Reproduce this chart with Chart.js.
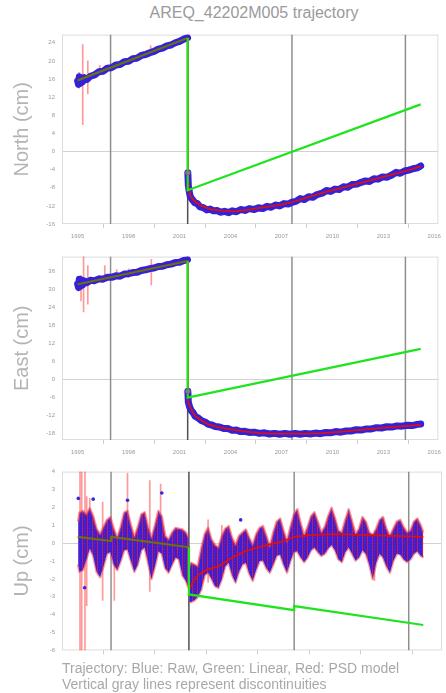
<!DOCTYPE html>
<html>
<head>
<meta charset="utf-8">
<script src="https://cdn.jsdelivr.net/npm/chart.js@4.4.1/dist/chart.umd.min.js"></script>
<style>
    body { margin: 0; background: #fff; width: 446px; height: 693px; overflow: hidden; position: relative; font-family: "Liberation Sans", Arial, sans-serif; }
    canvas { position: absolute; left: 0; }
    #title { position: absolute; left: 62px; width: 384px; top: 4px; text-align: center; color: #9a9a9a; font-size: 16px; }
    #foot { position: absolute; left: 62px; top: 660px; color: #a8a8a8; font-size: 14px; line-height: 16px; white-space: nowrap; }
</style>
</head>
<body>
<div id="title">AREQ_42202M005 trajectory</div>
<canvas id="chartN" width="446" height="222" style="top:24px"></canvas>
<canvas id="chartE" width="446" height="215" style="top:246px"></canvas>
<canvas id="chartU" width="446" height="200" style="top:461px"></canvas>
<div id="foot">Trajectory: Blue: Raw, Green: Linear, Red: PSD model<br>Vertical gray lines represent discontinuities</div>
<script>
'use strict';

// ---- data (decimal year, cm) ----
const yearTicks = [1995, 1998, 2001, 2004, 2007, 2010, 2013, 2016];
const northTicks = [-16, -12, -8, -4, 0, 4, 8, 12, 16, 20, 24];
const eastTicks = [-18, -12, -6, 0, 6, 12, 18, 24, 30, 36];
const upTicks = [-6, -5, -4, -3, -2, -1, 0, 1, 2, 3, 4];
const discontinuities = [1996.94, 2001.48, 2007.62, 2014.3];
const quakeYear = 2001.48;

const northRaw = [
    [1995.0, 15.6], [1995.05, 14.8], [1995.1, 16.5], [1995.15, 15.0], [1995.2, 16.2], [1995.3, 15.4],
    [1995.4, 16.3], [1995.55, 15.9], [1995.75, 16.6], [1996.0, 16.9], [1996.25, 17.6], [1996.5, 17.7],
    [1996.75, 18.4], [1997.0, 18.5], [1997.25, 19.1], [1997.5, 19.2], [1997.75, 19.8], [1998.0, 19.9],
    [1998.25, 20.5], [1998.5, 20.6], [1998.75, 21.2], [1999.0, 21.4], [1999.25, 21.8], [1999.5, 22.1],
    [1999.75, 22.6], [2000.0, 22.8], [2000.25, 23.3], [2000.5, 23.5], [2000.75, 24.0], [2001.0, 24.3],
    [2001.25, 24.8], [2001.47, 25.1], [2001.48, null],
    [2001.49, -4.7], [2001.52, -7.5], [2001.57, -8.8], [2001.63, -9.9], [2001.75, -10.6], [2001.9, -11.3],
    [2002.05, -11.5], [2002.2, -12.2], [2002.4, -12.4], [2002.6, -12.9], [2002.8, -12.7], [2003.0, -13.1],
    [2003.2, -13.0], [2003.4, -13.4], [2003.65, -13.2], [2003.9, -13.5], [2004.1, -13.1], [2004.35, -13.3],
    [2004.6, -12.8], [2004.85, -13.0], [2005.1, -12.6], [2005.4, -12.8], [2005.65, -12.4], [2005.9, -12.6],
    [2006.15, -12.1], [2006.4, -12.3], [2006.65, -11.8], [2006.9, -12.0], [2007.15, -11.5], [2007.4, -11.6],
    [2007.62, -11.2], [2007.85, -11.0], [2008.1, -10.4], [2008.35, -10.6], [2008.6, -10.0], [2008.85, -10.1],
    [2009.1, -9.5], [2009.4, -9.2], [2009.65, -8.6], [2009.9, -8.8], [2010.15, -8.3], [2010.4, -8.4],
    [2010.65, -7.8], [2010.9, -7.9], [2011.15, -7.3], [2011.45, -7.2], [2011.7, -6.8], [2011.95, -6.5],
    [2012.2, -6.6], [2012.45, -6.0], [2012.7, -6.1], [2012.95, -5.6], [2013.2, -5.7], [2013.5, -5.2],
    [2013.75, -4.6], [2014.0, -4.8], [2014.25, -4.3], [2014.5, -4.1], [2014.75, -3.8], [2015.0, -3.6],
    [2015.2, -3.2]
];
const northModel = [
    [1995.0, 15.7], [2001.48, 25.05], [2001.49, -4.7], [2001.55, -8.0], [2001.63, -9.8], [2001.8, -10.6],
    [2002.0, -11.3], [2002.3, -12.0], [2002.8, -12.7], [2003.5, -13.1], [2004.3, -13.2], [2005.0, -12.9],
    [2006.0, -12.3], [2007.0, -11.7], [2007.62, -11.2], [2008.5, -10.2], [2009.5, -9.0], [2010.5, -8.1],
    [2011.5, -7.1], [2012.5, -6.1], [2013.5, -5.1], [2014.5, -4.1], [2015.2, -3.3]
];
const northLinear = [[1995.0, 15.7], [2001.48, 25.05], [2001.48, -8.55], [2015.2, 10.4]];
const northErrors = [[1995.1, 14.0, 17.5], [1995.3, 5.9, 23.6], [1995.6, 12.7, 20.0], [1996.3, 17.0, 19.0], [1999.3, 21.2, 23.4]];
const northFirstPost = [[2001.49, -4.7]];

const eastRaw = [
    [1995.0, 31.8], [1995.05, 30.6], [1995.1, 33.4], [1995.15, 30.9], [1995.2, 33.2], [1995.3, 31.5],
    [1995.4, 32.8], [1995.55, 32.2], [1995.75, 33.0], [1996.0, 32.9], [1996.25, 33.5], [1996.5, 33.4],
    [1996.75, 34.0], [1997.0, 34.0], [1997.25, 34.5], [1997.5, 34.4], [1997.75, 35.1], [1998.0, 35.2],
    [1998.25, 35.6], [1998.5, 35.7], [1998.75, 36.3], [1999.0, 36.5], [1999.25, 36.9], [1999.5, 37.1],
    [1999.75, 37.6], [2000.0, 37.7], [2000.25, 38.2], [2000.5, 38.4], [2000.75, 38.9], [2001.0, 39.0],
    [2001.25, 39.6], [2001.47, 39.9], [2001.48, null],
    [2001.49, -3.9], [2001.52, -7.6], [2001.6, -9.2], [2001.7, -10.4], [2001.8, -11.0], [2001.92, -12.2],
    [2002.1, -12.8], [2002.3, -13.7], [2002.5, -14.1], [2002.7, -14.9], [2002.9, -15.1], [2003.1, -15.6],
    [2003.35, -15.8], [2003.6, -16.3], [2003.85, -16.3], [2004.1, -16.9], [2004.35, -16.8], [2004.6, -17.3],
    [2004.85, -17.2], [2005.1, -17.6], [2005.4, -17.5], [2005.7, -17.9], [2006.0, -17.7], [2006.3, -18.1],
    [2006.6, -17.9], [2006.9, -18.2], [2007.2, -17.9], [2007.5, -18.2], [2007.8, -17.9], [2008.1, -18.2],
    [2008.4, -17.9], [2008.7, -18.1], [2009.0, -17.8], [2009.3, -18.0], [2009.6, -17.6], [2009.9, -17.7],
    [2010.2, -17.3], [2010.5, -17.5], [2010.8, -17.1], [2011.1, -17.1], [2011.4, -16.7], [2011.7, -16.8],
    [2012.0, -16.4], [2012.3, -16.4], [2012.6, -16.0], [2012.9, -16.1], [2013.2, -15.7], [2013.5, -15.8],
    [2013.8, -15.4], [2014.1, -15.5], [2014.4, -15.2], [2014.7, -15.3], [2015.0, -14.9], [2015.2, -14.8]
];
const eastModel = [
    [1995.0, 31.7], [2001.48, 39.45], [2001.49, -3.9], [2001.52, -7.9], [2001.75, -10.5], [2001.92, -12.1],
    [2002.3, -13.6], [2002.67, -14.8], [2003.2, -15.7], [2003.83, -16.4], [2004.8, -17.2], [2005.73, -17.8],
    [2006.6, -18.0], [2007.58, -18.0], [2008.5, -18.0], [2009.43, -17.8], [2010.4, -17.4], [2011.33, -16.9],
    [2012.3, -16.4], [2013.29, -15.9], [2014.2, -15.5], [2015.2, -15.1]
];
const eastLinear = [[1995.0, 31.7], [2001.48, 39.45], [2001.48, -6.0], [2015.2, 10.2]];
const eastErrors = [[1995.2, 26.2, 34.7], [1995.35, 22.5, 41.1], [1995.6, 25.1, 37.9], [1996.6, 34.1, 37.9], [1997.3, 33.5, 36.6], [1998.0, 34.0, 36.8], [1999.34, 31.5, 40.0]];
const eastFirstPost = [[2001.49, -3.9]];

// Up: raw envelope per bin [year, low, high]
const upRaw = [
    [1995.02, -1.2, 1.2], [1995.1, -1.6, 1.7], [1995.3, -1.5, 1.8], [1995.5, -0.9, 1.6], [1995.7, -0.3, 1.95], [1995.9, -0.7, 1.5],
    [1996.1, -1.6, 0.8], [1996.3, -1.9, 0.5], [1996.5, -1.3, 0.9], [1996.7, -0.6, 1.3], [1996.9, -0.5, 1.45],
    [1997.1, -1.2, 0.8], [1997.3, -1.5, 0.3], [1997.5, -1.0, 0.9], [1997.7, -0.4, 1.7], [1997.9, -0.35, 1.8],
    [1998.1, -1.0, 1.0], [1998.3, -1.6, 0.35], [1998.5, -1.2, 0.9], [1998.7, -0.4, 1.6], [1998.9, -0.25, 1.72],
    [1999.1, -1.1, 0.9], [1999.3, -2.0, 0.3], [1999.5, -1.3, 1.0], [1999.7, -0.45, 1.8], [1999.9, -0.6, 1.5],
    [2000.1, -1.4, 0.4], [2000.3, -1.65, 0.2], [2000.5, -1.2, 0.6], [2000.7, -0.8, 0.85], [2000.9, -0.9, 0.8],
    [2001.1, -1.8, 0.76], [2001.3, -2.1, 0.6], [2001.46, -2.5, 0.3], [2001.48, null, null],
    [2001.5, -3.3, -1.4], [2001.6, -3.3, -1.1], [2001.8, -3.2, -1.2], [2002.0, -3.0, -1.3], [2002.2, -2.6, -0.3], [2002.4, -1.8, 0.5],
    [2002.6, -1.65, 0.85], [2002.8, -2.0, 0.2], [2003.0, -2.4, -0.1], [2003.2, -2.5, -0.25], [2003.4, -2.0, 0.4],
    [2003.6, -1.3, 0.8], [2003.8, -1.1, 0.95], [2004.0, -1.8, 0.3], [2004.2, -2.2, -0.1], [2004.4, -1.6, 0.4],
    [2004.6, -1.2, 0.6], [2004.8, -1.1, 0.76], [2005.0, -1.7, 0.3], [2005.2, -2.1, -0.1], [2005.4, -1.5, 0.5],
    [2005.6, -1.0, 0.85], [2005.8, -0.97, 0.95], [2006.0, -1.4, 0.4], [2006.2, -1.65, -0.19], [2006.4, -1.2, 0.6],
    [2006.6, -0.7, 1.2], [2006.8, -0.63, 1.37], [2007.0, -1.2, 0.7], [2007.2, -1.65, 0.09], [2007.4, -1.0, 0.9],
    [2007.6, -0.5, 1.6], [2007.8, -0.45, 1.89], [2008.0, -0.8, 1.1], [2008.2, -1.06, 0.43], [2008.4, -0.8, 0.9],
    [2008.6, -0.4, 1.5], [2008.8, -0.25, 1.72], [2009.0, -0.5, 1.2], [2009.2, -0.71, 0.6], [2009.4, -0.6, 0.9],
    [2009.6, -0.3, 1.5], [2009.8, -0.1, 1.97], [2010.0, -0.4, 1.4], [2010.2, -0.9, 0.7], [2010.4, -1.06, 0.6],
    [2010.6, -0.5, 1.3], [2010.8, -0.25, 1.89], [2011.0, -0.6, 1.2], [2011.2, -0.97, 0.5], [2011.4, -0.8, 0.8],
    [2011.6, -0.4, 1.46], [2011.8, -0.6, 1.2], [2012.0, -1.2, 0.6], [2012.2, -2.0, 0.45], [2012.4, -1.1, 0.8],
    [2012.6, -0.6, 1.3], [2012.8, -0.8, 1.46], [2013.0, -1.3, 0.8], [2013.2, -1.65, 0.4], [2013.4, -1.0, 0.8],
    [2013.6, -0.6, 1.2], [2013.8, -0.63, 1.3], [2014.0, -0.9, 0.9], [2014.2, -1.06, 0.6], [2014.4, -0.9, 0.7],
    [2014.6, -0.6, 1.2], [2014.8, -0.45, 1.37], [2015.0, -0.7, 1.0], [2015.15, -0.8, 0.59]
];
const upOutliers = [[1995.03, 2.5], [1995.9, 2.46], [1995.4, -2.5], [1997.9, 2.4], [1999.9, 2.8], [2004.5, 1.3]];
const upModel = [
    [1995.0, 0.35], [1996.94, 0.12], [1996.94, 0.35], [2001.48, -0.23], [2001.5, -2.6], [2001.7, -2.2],
    [2002.0, -1.8], [2002.5, -1.5], [2003.2, -1.3], [2004.0, -0.8], [2004.8, -0.45], [2005.8, -0.15],
    [2006.8, 0.05], [2007.62, 0.35], [2008.5, 0.45], [2010.0, 0.5], [2012.0, 0.45], [2013.5, 0.4], [2015.15, 0.35]
];
const upLinear = [
    [1995.0, 0.35], [1996.94, 0.12], [1996.94, 0.35], [2001.48, -0.23], [2001.48, -2.87],
    [2007.62, -3.75], [2007.62, -3.52], [2015.15, -4.58]
];
const upErrors = [
    [1995.13, -6, 4], [1995.23, -6, 4], [1995.42, -6, 4], [1995.52, -3.5, 2.6], [1995.7, 0.9, 2.5],
    [1996.45, -3.2, 2.3], [1997.13, -3.2, -0.45], [1997.9, 1.4, 3.9], [1999.2, -2.7, 3.5], [1999.83, 1.46, 3.3],
    [2002.6, -2.2, 1.3], [2003.4, -0.9, 1.0], [2012.3, -2.1, -0.5]
];

// ---- helpers ----
const FONT = '"Liberation Sans", Arial, sans-serif';
const GRAY_TXT = '#9a9a9a';
const RAW_BLUE = '#3322d8';

const framePlugin = {
    id: 'frame',
    beforeDatasetsDraw(chart) {
        const a = chart.chartArea, ctx = chart.ctx;
        ctx.save();
        ctx.strokeStyle = '#dddddd';
        ctx.lineWidth = 1;
        ctx.strokeRect(a.left + 0.5, a.top + 0.5, a.right - a.left - 1, a.bottom - a.top - 1);
        ctx.restore();
    }
};

// blue dots over red error bars: a small striped fill for the Up cloud
function cloudPattern() {
    const c = document.createElement('canvas');
    c.width = 5; c.height = 3;
    const g = c.getContext('2d');
    g.fillStyle = '#3a1fd6'; g.fillRect(0, 0, 5, 3);
    g.fillStyle = 'rgba(235,30,50,0.75)'; g.fillRect(2, 0, 1, 3);
    g.fillStyle = 'rgba(235,30,50,0.45)'; g.fillRect(4, 1, 1, 1);
    return g.createPattern(c, 'repeat');
}

function pts(list) { return list.map(function(p) { return { x: p[0], y: p[1] }; }); }
function bars(list) { return list.map(function(p) { return { x: p[0], y: [p[1], p[2]] }; }); }
function col(list, i) { return list.map(function(p) { return { x: p[0], y: p[i] }; }); }

function discLines(yMin, yMax) {
    const out = [];
    discontinuities.forEach(function(t) {
        out.push({ x: t, y: yMin }, { x: t, y: yMax }, { x: t, y: null });
    });
    return {
        type: 'line', data: out, order: 20, borderWidth: 1.5, pointRadius: 0,
        borderColor: '#8f8f8f',
        segment: { borderColor: function(ctx) { return ctx.p0.parsed.x === quakeYear ? '#505050' : '#8f8f8f'; } }
    };
}

function linearSet(list) {
    return {
        type: 'line', data: pts(list), order: 2, borderWidth: 2.2, pointRadius: 0,
        borderColor: '#1ee41e',
        segment: {
            borderColor: function(ctx) {
                const a = ctx.p0.parsed.x, b = ctx.p1.parsed.x;
                return (b < quakeYear || (a < quakeYear && b <= quakeYear && a !== b)) ? 'rgba(20,200,0,0.5)' : '#1ee41e';
            }
        }
    };
}

function modelSet(list) {
    return { type: 'line', data: pts(list), order: 3, borderWidth: 1.8, pointRadius: 0, borderColor: '#dd1010' };
}

function rawSet(list) {
    return { type: 'line', data: pts(list), order: 8, borderWidth: 7, pointRadius: 0, borderColor: RAW_BLUE, borderJoinStyle: 'round', borderCapStyle: 'round' };
}

function errorSet(list) {
    return { type: 'bar', data: bars(list), order: 15, grouped: false, barThickness: 1, backgroundColor: 'rgba(255,70,70,0.55)' };
}

function makeChart(id, o) {
    return new Chart(document.getElementById(id), {
        type: 'bar',
        data: { datasets: o.datasets },
        plugins: [framePlugin],
        options: {
            responsive: false, animation: false, events: [],
            layout: { padding: { top: o.padTop, left: 0, right: 0, bottom: 0 } },
            plugins: { legend: { display: false }, tooltip: { enabled: false } },
            scales: {
                x: {
                    type: 'linear', min: 1994.08, max: 2016.24, offset: false,
                    afterFit: function(s) { s.height = o.xHeight; },
                    afterBuildTicks: function(s) { s.ticks = yearTicks.map(function(v) { return { value: v }; }); },
                    grid: { drawOnChartArea: false, drawTicks: true, tickLength: 4, color: '#cfcfcf' },
                    border: { display: false },
                    ticks: { display: o.xLabels, autoSkip: false, maxRotation: 0, padding: 5, color: GRAY_TXT, font: { family: FONT, size: 6 }, callback: function(v) { return String(v); } }
                },
                y: {
                    type: 'linear', min: o.yMin, max: o.yMax,
                    afterFit: function(s) { s.width = 62; },
                    afterBuildTicks: function(s) { s.ticks = o.yTicks.map(function(v) { return { value: v }; }); },
                    grid: { drawTicks: false, lineWidth: 1, color: function(ctx) { return ctx.tick && ctx.tick.value === 0 ? '#d2d2d2' : 'rgba(0,0,0,0)'; } },
                    border: { display: false },
                    ticks: { padding: 7, color: GRAY_TXT, font: { family: FONT, size: 6 } },
                    title: { display: true, text: o.title, color: '#b4b4b4', font: { family: FONT, size: 20 }, padding: { top: 10, bottom: 0 } }
                }
            }
        }
    });
}

// North
makeChart('chartN', {
    padTop: 10, xHeight: 22, xLabels: true, yMin: -16, yMax: 25.8, yTicks: northTicks, title: 'North (cm)',
    datasets: [
        discLines(-16, 25.8),
        errorSet(northErrors),
        rawSet(northRaw),
        modelSet(northModel),
        linearSet(northLinear),
        { type: 'scatter', data: pts(northFirstPost), order: 1, pointRadius: 2.5, backgroundColor: '#808080', borderColor: '#606060', borderWidth: 0.5 }
    ]
});

// East
makeChart('chartE', {
    padTop: 3, xHeight: 21, xLabels: true, yMin: -20.1, yMax: 40.9, yTicks: eastTicks, title: 'East (cm)',
    datasets: [
        discLines(-20.1, 40.9),
        errorSet(eastErrors),
        rawSet(eastRaw),
        modelSet(eastModel),
        linearSet(eastLinear),
        { type: 'scatter', data: pts(eastFirstPost), order: 1, pointRadius: 2.5, backgroundColor: '#808080', borderColor: '#606060', borderWidth: 0.5 }
    ]
});

// Up: raw cloud drawn as the band between its high and low edges
makeChart('chartU', {
    padTop: 3, xHeight: 5, xLabels: false, yMin: -6, yMax: 4, yTicks: upTicks, title: 'Up (cm)',
    datasets: [
        {
            type: 'line', data: col(upRaw, 2), order: 8, fill: '+1', pointRadius: 0,
            backgroundColor: cloudPattern(), borderColor: 'rgba(250,60,70,0.55)', borderWidth: 2.5, borderJoinStyle: 'round'
        },
        {
            type: 'line', data: col(upRaw, 1), order: 9, fill: false, pointRadius: 0,
            borderColor: 'rgba(250,60,70,0.55)', borderWidth: 2.5, borderJoinStyle: 'round'
        },
        discLines(-6, 4),
        errorSet(upErrors),
        { type: 'scatter', data: pts(upOutliers), order: 7, pointRadius: 1.8, backgroundColor: '#2a2ae8', borderWidth: 0 },
        modelSet(upModel),
        linearSet(upLinear)
    ]
});
</script>
</body>
</html>
